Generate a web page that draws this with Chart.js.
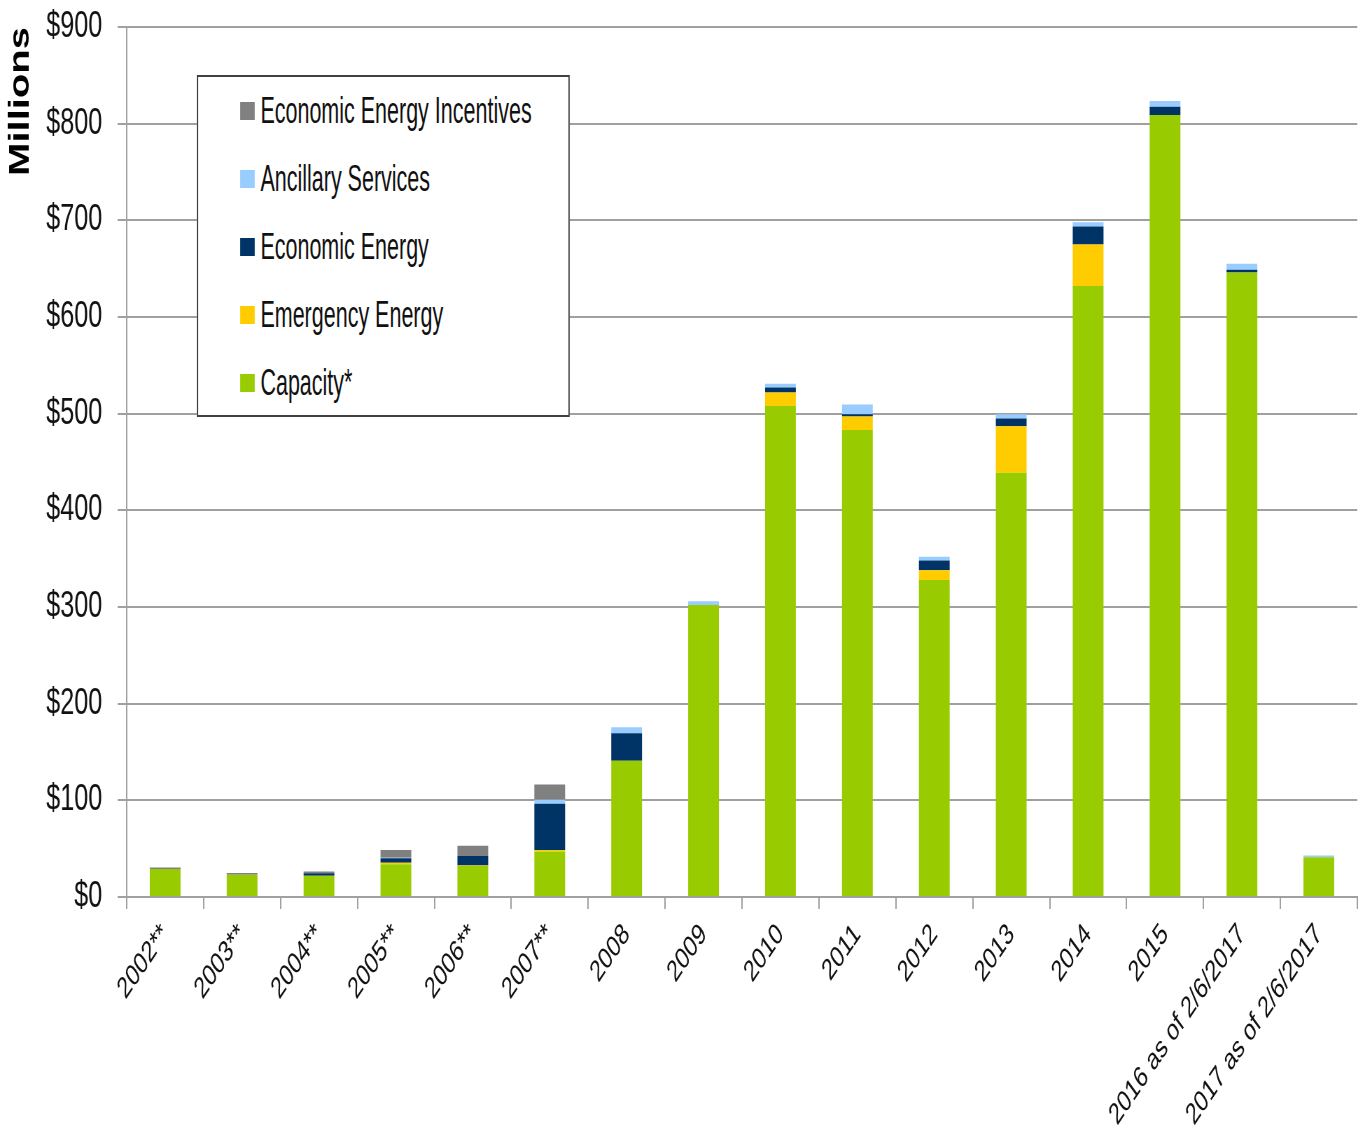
<!DOCTYPE html>
<html>
<head>
<meta charset="utf-8">
<script src="https://cdn.jsdelivr.net/npm/chart.js@4.4.1/dist/chart.umd.min.js"></script>
<style>
  html, body { margin: 0; padding: 0; background: #fff; overflow: hidden; }
  /* the reference looks horizontally squeezed, so draw wide and squeeze */
  #wrap { position: relative; width: 1956px; height: 1131px; transform: scaleX(0.7); transform-origin: 0 0; }
  #legend { position: absolute; left: 281px; top: 75px; width: 529px; height: 338px;
            border: 2px solid #404040; background: #fff; box-sizing: content-box; }
  #legend .item { position: absolute; left: 60px; height: 40px; display: flex; align-items: center;
                  font-family: "Liberation Sans", sans-serif;
                  font-size: 37px; color: #111; white-space: nowrap; }
  #legend .box { width: 21px; height: 18px; margin-right: 8px; flex: none; }
  #legend .txt { display: inline-block; transform: scaleX(0.83); transform-origin: 0 50%; }
</style>
</head>
<body>
<div id="wrap">
  <canvas id="drChart"></canvas>
  <div id="legend"></div>
</div>
<script>
const categories = ['2002**', '2003**', '2004**', '2005**', '2006**', '2007**', '2008', '2009', '2010', '2011',
  '2012', '2013', '2014', '2015', '2016 as of 2/6/2017', '2017 as of 2/6/2017'];
const capacity   = [29, 23, 22, 34, 32, 47, 141, 302, 508, 483, 328, 439, 632, 809, 646, 41];
const emergency  = [0, 0, 0, 1.5, 0.5, 1.5, 0, 0, 14, 14, 10, 48, 43, 0, 0, 0];
const economic   = [0, 0, 2.5, 4.5, 10, 48, 28.5, 0, 5, 2.5, 10, 8, 18.5, 8.5, 3, 0];
const ancillary  = [0, 0, 0, 0.5, 0, 4, 6, 4, 4, 10, 4, 4.5, 4.5, 6, 6, 2];
const incentives = [1.5, 1.7, 2, 8, 10.5, 16, 0, 0, 0, 0, 0, 0, 0, 0, 0, 0];
const yTicks = [0, 100, 200, 300, 400, 500, 600, 700, 800, 900];

const gridColor = '#a0a0a0';

const datasets = [
  { label: 'Capacity*', data: capacity, backgroundColor: '#99cc00' },
  { label: 'Emergency Energy', data: emergency, backgroundColor: '#ffcc00' },
  { label: 'Economic Energy', data: economic, backgroundColor: '#003366' },
  { label: 'Ancillary Services', data: ancillary, backgroundColor: '#99ccff' },
  { label: 'Economic Energy Incentives', data: incentives, backgroundColor: '#808080' }
].map(d => Object.assign(d, { barPercentage: 0.4, categoryPercentage: 1.0, borderWidth: 0 }));

const ctx = document.getElementById('drChart').getContext('2d');
new Chart(ctx, {
  type: 'bar',
  data: { labels: categories, datasets: datasets },
  options: {
    responsive: true,
    maintainAspectRatio: false,
    animation: false,
    layout: { padding: { top: 27, right: 17, left: 0, bottom: 0 } },
    plugins: { legend: { display: false }, tooltip: { enabled: false } },
    scales: {
      x: {
        stacked: true,
        offset: true,
        grid: { drawOnChartArea: false, offset: true, color: gridColor, lineWidth: 2, tickLength: 12 },
        border: { color: gridColor, width: 2 },
        ticks: {
          autoSkip: false, minRotation: 46, maxRotation: 46, padding: 8,
          color: '#111', font: { family: 'Liberation Sans', size: 30 }
        },
        afterFit: (scale) => { scale.height = 234; }
      },
      y: {
        stacked: true,
        min: 0,
        max: 900,
        afterBuildTicks: (scale) => { scale.ticks = yTicks.map(v => ({ value: v })); },
        grid: { color: gridColor, lineWidth: 2, tickLength: 13 },
        border: { color: gridColor, width: 2 },
        ticks: {
          padding: 22, color: '#111', font: { family: 'Liberation Sans', size: 36 },
          callback: (v) => '$' + v
        },
        title: {
          display: true, text: 'Millions', align: 'end', color: '#000',
          font: { family: 'Liberation Sans', size: 40, weight: 'bold' }, padding: { top: 6, bottom: 0 }
        },
        afterFit: (scale) => {
          scale.width = 181;
          scale.paddingTop = 0;
          scale.paddingBottom = 0;
        }
      }
    }
  }
});

// legend box, top item first (reverse of stacking order)
const legend = document.getElementById('legend');
datasets.slice().reverse().forEach((d, i) => {
  const item = document.createElement('div');
  item.className = 'item';
  item.style.top = (14 + i * 68) + 'px';
  item.innerHTML = '<span class="box" style="background:' + d.backgroundColor + '"></span>' +
    '<span class="txt">' + d.label + '</span>';
  legend.appendChild(item);
});
</script>
</body>
</html>
